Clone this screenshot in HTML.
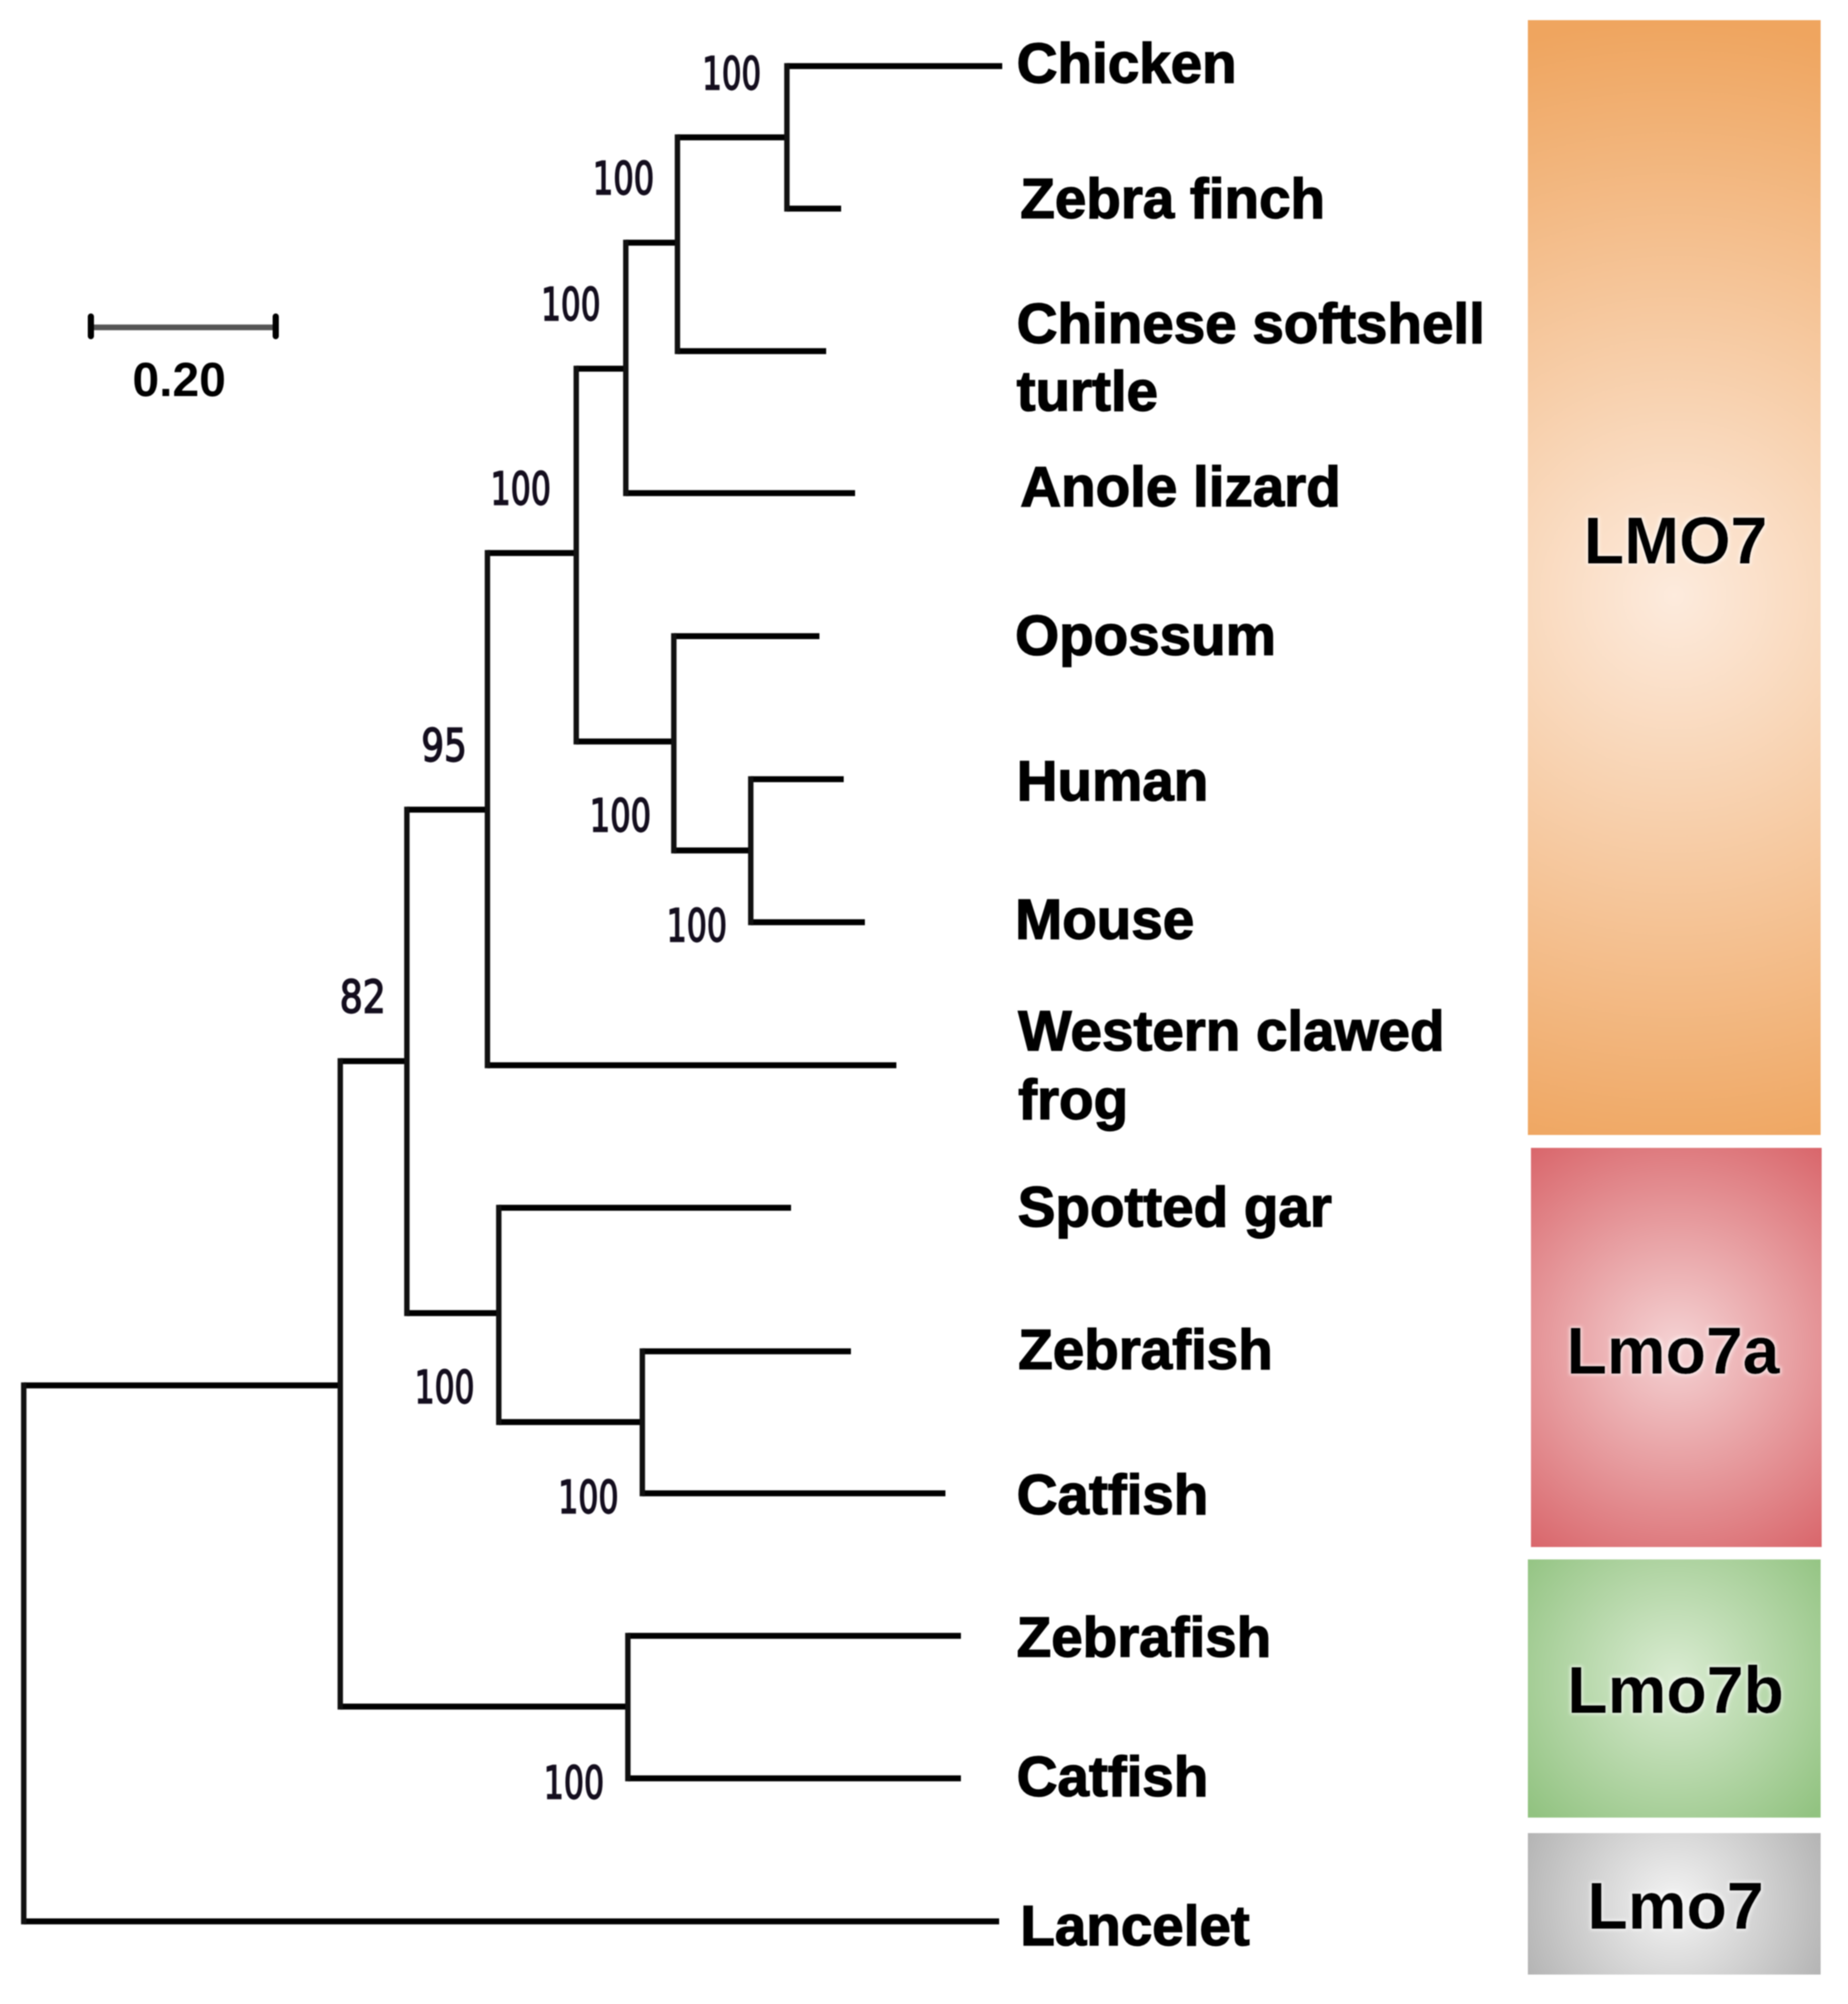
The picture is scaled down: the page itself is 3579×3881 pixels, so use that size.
<!DOCTYPE html>
<html><head><meta charset="utf-8"><title>LMO7 phylogenetic tree</title>
<style>
html,body{margin:0;padding:0;background:#fff;}
body{width:3579px;height:3881px;overflow:hidden;position:relative;}
svg{position:absolute;left:0;top:0;display:block;filter:blur(1.2px);}
.sp{font-family:"Liberation Sans",Arial,sans-serif;font-weight:bold;font-size:109.5px;fill:#000;stroke:#000;stroke-width:2.5px;}
.bs{font-family:"DejaVu Sans Condensed","DejaVu Sans",sans-serif;font-size:88px;fill:#140e1e;stroke:#140e1e;stroke-width:2.8px;}
.bx{font-family:"Liberation Sans",Arial,sans-serif;font-weight:bold;font-size:128px;fill:#000;}
</style></head><body>
<svg width="3579" height="3881" viewBox="0 0 3579 3881">
<defs>
<radialGradient id="g0" gradientUnits="userSpaceOnUse" cx="3242.5" cy="1153.5" r="1116.1"><stop offset="0" stop-color="#FDEBDD"/><stop offset="1" stop-color="#EFA55F"/></radialGradient>
<radialGradient id="g1" gradientUnits="userSpaceOnUse" cx="3246.5" cy="2609.5" r="478.1"><stop offset="0" stop-color="#F5D3D4"/><stop offset="1" stop-color="#D9666B"/></radialGradient>
<radialGradient id="g2" gradientUnits="userSpaceOnUse" cx="3242.5" cy="3250.0" r="378.0"><stop offset="0" stop-color="#DAECD2"/><stop offset="1" stop-color="#92C381"/></radialGradient>
<radialGradient id="g3" gradientUnits="userSpaceOnUse" cx="3242.5" cy="3687.0" r="314.9"><stop offset="0" stop-color="#F4F4F4"/><stop offset="1" stop-color="#B4B4B4"/></radialGradient>
<filter id="glow" x="-10%" y="-30%" width="120%" height="160%"><feMorphology in="SourceAlpha" operator="dilate" radius="3" result="d"/><feGaussianBlur in="d" stdDeviation="3" result="b"/><feFlood flood-color="#fff" flood-opacity="0.6"/><feComposite in2="b" operator="in" result="w"/><feMerge><feMergeNode in="w"/><feMergeNode in="SourceGraphic"/></feMerge></filter>
</defs>
<rect x="2959" y="39" width="567" height="2159" fill="url(#g0)"/>
<rect x="2965" y="2223" width="563" height="773" fill="url(#g1)"/>
<rect x="2959" y="3020" width="567" height="500" fill="url(#g2)"/>
<rect x="2959" y="3550" width="567" height="274" fill="url(#g3)"/>
<text class="bx" x="3245" y="1091" text-anchor="middle" filter="url(#glow)">LMO7</text>
<text class="bx" x="3240" y="2660" text-anchor="middle" filter="url(#glow)">Lmo7a</text>
<text class="bx" x="3245" y="3317" text-anchor="middle" filter="url(#glow)">Lmo7b</text>
<text class="bx" x="3245" y="3735" text-anchor="middle" filter="url(#glow)">Lmo7</text>
<path d="M46 2683H659M46 3721H1935M659 2055H788M659 3305H1216M1216 3168H1861M1216 3444H1861M788 1568H944M788 2543H966M966 2339H1532M966 2754H1244M1244 2617H1648M1244 2892H1831M944 1071H1116M944 2063H1736M1116 714H1212M1116 1436H1305M1305 1232H1587M1305 1647H1454M1454 1509H1634M1454 1786H1675M1212 470H1312M1212 955H1656M1312 266H1524M1312 680H1600M1524 128H1941M1524 404H1629" stroke="#000" stroke-width="11.5" fill="none" stroke-linecap="butt"/>
<path d="M46 2677.25V3726.75M659 2049.25V3310.75M1216 3162.25V3449.75M788 1562.25V2548.75M966 2333.25V2759.75M1244 2611.25V2897.75M944 1065.25V2068.75M1116 708.25V1441.75M1305 1226.25V1652.75M1454 1503.25V1791.75M1212 464.25V960.75M1312 260.25V685.75M1524 122.25V409.75" stroke="#111" stroke-width="10.5" fill="none" stroke-linecap="butt"/>
<path d="M176 634H534" stroke="#555" stroke-width="11" fill="none"/>
<path d="M176 613V651M534 613V651" stroke="#000" stroke-width="12" stroke-linecap="round" fill="none"/>
<text x="347" y="767" text-anchor="middle" style="font-family:'Liberation Sans',Arial,sans-serif;font-weight:bold;font-size:93px">0.20</text>
<text class="bs" x="1360" y="173" textLength="114" lengthAdjust="spacingAndGlyphs">100</text>
<text class="bs" x="1148" y="376" textLength="119" lengthAdjust="spacingAndGlyphs">100</text>
<text class="bs" x="1048" y="620" textLength="115" lengthAdjust="spacingAndGlyphs">100</text>
<text class="bs" x="950" y="977" textLength="117" lengthAdjust="spacingAndGlyphs">100</text>
<text class="bs" x="816" y="1474" textLength="88" lengthAdjust="spacingAndGlyphs">95</text>
<text class="bs" x="1142" y="1610" textLength="119" lengthAdjust="spacingAndGlyphs">100</text>
<text class="bs" x="1291" y="1823" textLength="117" lengthAdjust="spacingAndGlyphs">100</text>
<text class="bs" x="658" y="1961" textLength="89" lengthAdjust="spacingAndGlyphs">82</text>
<text class="bs" x="803" y="2717" textLength="116" lengthAdjust="spacingAndGlyphs">100</text>
<text class="bs" x="1081" y="2930" textLength="117" lengthAdjust="spacingAndGlyphs">100</text>
<text class="bs" x="1053" y="3483" textLength="117" lengthAdjust="spacingAndGlyphs">100</text>
<text class="sp" x="1969" y="160">Chicken</text>
<text class="sp" x="1976" y="422">Zebra finch</text>
<text class="sp" x="1969" y="664">Chinese softshell</text>
<text class="sp" x="1969" y="795">turtle</text>
<text class="sp" x="1976" y="980">Anole lizard</text>
<text class="sp" x="1966" y="1268">Opossum</text>
<text class="sp" x="1969" y="1550">Human</text>
<text class="sp" x="1966" y="1818">Mouse</text>
<text class="sp" x="1972" y="2034">Western clawed</text>
<text class="sp" x="1972" y="2167">frog</text>
<text class="sp" x="1971" y="2375">Spotted gar</text>
<text class="sp" x="1972" y="2651">Zebrafish</text>
<text class="sp" x="1969" y="2932">Catfish</text>
<text class="sp" x="1969" y="3208">Zebrafish</text>
<text class="sp" x="1969" y="3478">Catfish</text>
<text class="sp" x="1976" y="3767">Lancelet</text>
</svg>
</body></html>
